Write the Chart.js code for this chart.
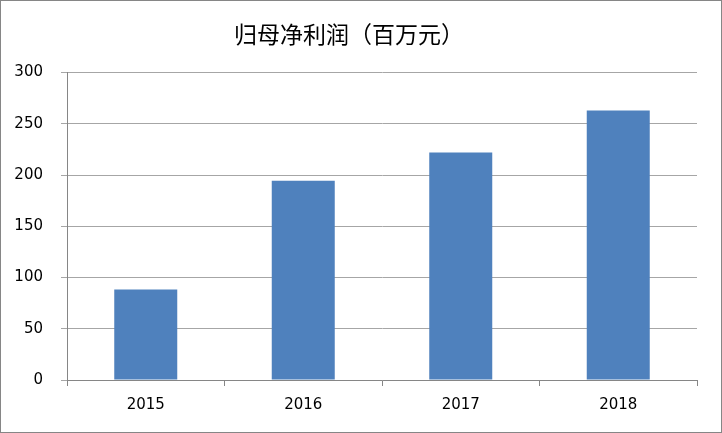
<!DOCTYPE html>
<html>
<head>
<meta charset="utf-8">
<script src="https://cdn.jsdelivr.net/npm/chart.js@4/dist/chart.umd.min.js"></script>
<style>
  html, body { margin: 0; padding: 0; background: #fff; }
  #wrap { position: relative; width: 720px; height: 431px; border: 1px solid #868686; }
</style>
</head>
<body>
<div id="wrap"><canvas id="myChart"></canvas></div>
<script>
let years = ['2015', '2016', '2017', '2018'];
let profit = [88.3, 194.5, 222, 263];
let yTicks = [0, 50, 100, 150, 200, 250, 300];

let ctx = document.getElementById('myChart').getContext('2d');
let myChart = new Chart(ctx, {
    type: 'bar',
    data: {
        labels: years,
        datasets: [
            {
                label: '归母净利润',
                data: profit,
                backgroundColor: '#4F81BD',
                barPercentage: 0.4,
                categoryPercentage: 1.0
            }
        ]
    },
    options: {
        responsive: true,
        maintainAspectRatio: false,
        animation: false,
        layout: { padding: { left: 0, right: 24, top: 0, bottom: 0 } },
        plugins: {
            legend: { display: false },
            tooltip: { enabled: false },
            title: {
                display: true,
                text: '归母净利润（百万元）',
                color: '#000',
                font: { family: '"Noto Sans CJK SC"', size: 23, weight: 'normal', lineHeight: 1.2 },
                padding: { top: 19, bottom: 25 }
            }
        },
        scales: {
            x: {
                grid: {
                    display: true,
                    drawOnChartArea: false,
                    offset: true,
                    tickLength: 6,
                    color: '#868686'
                },
                border: { color: '#868686' },
                ticks: {
                    color: '#000',
                    padding: 10,
                    font: { family: '"DejaVu Sans"', size: 15 }
                },
                afterFit: scale => { scale.height = 52; }
            },
            y: {
                min: 0,
                max: 300,
                afterBuildTicks: scale => { scale.ticks = yTicks.map(v => ({ value: v })); },
                grid: { color: '#a6a6a6', tickLength: 6 },
                border: { color: '#868686' },
                ticks: {
                    color: '#000',
                    padding: 18,
                    font: { family: '"DejaVu Sans"', size: 15 }
                },
                afterFit: scale => { scale.width = 66; }
            }
        }
    }
});
</script>
</body>
</html>
